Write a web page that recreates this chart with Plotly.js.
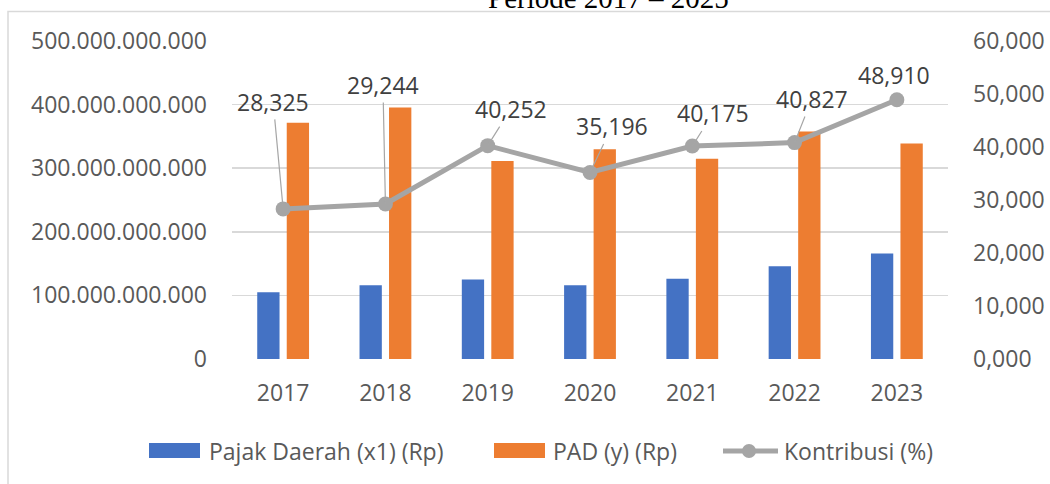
<!DOCTYPE html>
<html>
<head>
<meta charset="utf-8">
<script src="https://cdn.plot.ly/plotly-3.0.1.min.js"></script>
<style>html,body{margin:0;padding:0;background:#fff;}#chart{width:1050px;height:484px;}</style>
</head>
<body>
<div id="chart"></div>
<script>
// ---- data ----
const years = ['2017', '2018', '2019', '2020', '2021', '2022', '2023'];
const pajakDaerah = [105e9, 116e9, 125e9, 116e9, 126e9, 146e9, 166e9];
const pad = [371.6e9, 395.6e9, 311.3e9, 329.7e9, 315e9, 357.9e9, 339e9];
const kontribusi = [28.325, 29.244, 40.252, 35.196, 40.175, 40.827, 48.910];
const seriesNames = ['Pajak Daerah (x1) (Rp)', 'PAD (y) (Rp)', 'Kontribusi (%)'];
const leftTickVals = [0, 100e9, 200e9, 300e9, 400e9, 500e9];
const leftTickText = ['0', '100.000.000.000', '200.000.000.000', '300.000.000.000', '400.000.000.000', '500.000.000.000'];
const rightTickVals = [0, 10, 20, 30, 40, 50, 60];
const rightTickText = ['0,000', '10,000', '20,000', '30,000', '40,000', '50,000', '60,000'];
const chartTitle = 'Periode 2017 – 2025';

// ---- layout geometry (pixels) ----
const W = 1050, H = 484;
const L = 232, R = 948, T = 41, B = 359;
const px = x => (x - L) / (R - L);
const py = y => (B - y) / (B - T);

const colors = ['#4472C4', '#ED7D31', '#A5A5A5'];
const font = 'Open Sans, sans-serif';
const fs = 23;

const traces = [
  {type: 'bar', x: years, y: pajakDaerah, name: seriesNames[0], marker: {color: colors[0]}, yaxis: 'y', hoverinfo: 'skip'},
  {type: 'bar', x: years, y: pad, name: seriesNames[1], marker: {color: colors[1]}, yaxis: 'y', hoverinfo: 'skip'},
  {type: 'scatter', mode: 'lines+markers', x: years, y: kontribusi, name: seriesNames[2], yaxis: 'y2',
   line: {color: colors[2], width: 5}, marker: {color: colors[2], size: 15}, hoverinfo: 'skip'}
];

// label offsets (pixels) from each point
const labelOffsets = [[-10, -107], [-2.5, -119], [23, -36.5], [22, -46], [20.6, -32.6], [17.3, -43.7], [-2.6, -24.8]];
const leaderShown = [true, true, true, true, true, true, false];

const annotations = [];
kontribusi.forEach((v, i) => {
  const t = v.toFixed(3).replace('.', ',');
  const a = {x: i, y: v, xref: 'x', yref: 'y2', text: t,
    font: {family: font, size: fs, color: '#404040'}};
  if (leaderShown[i]) {
    Object.assign(a, {showarrow: true, arrowhead: 0, arrowwidth: 1.2, arrowcolor: '#A6A6A6',
      ax: labelOffsets[i][0], ay: labelOffsets[i][1], axref: 'pixel', ayref: 'pixel', standoff: 0, startstandoff: 0});
  } else {
    Object.assign(a, {showarrow: false, xshift: labelOffsets[i][0], yshift: -labelOffsets[i][1]});
  }
  annotations.push(a);
});

// title (partially cut at the top like the reference)
annotations.push({xref: 'paper', yref: 'paper', x: px(608), y: py(16), xanchor: 'center', yanchor: 'bottom',
  showarrow: false, text: chartTitle, font: {family: 'Liberation Serif, Times New Roman, serif', size: 29, color: '#000'}});

// custom legend
const shapes = [];
shapes.push({type: 'rect', xref: 'paper', yref: 'paper', x0: px(8), x1: px(1060), y0: py(520), y1: py(11.5),
  line: {color: '#D9D9D9', width: 1.5}, fillcolor: 'rgba(0,0,0,0)', layer: 'below'});
const legY = 451;
shapes.push({type: 'rect', xref: 'paper', yref: 'paper', x0: px(149), x1: px(200), y0: py(458), y1: py(443),
  fillcolor: colors[0], line: {width: 0}});
shapes.push({type: 'rect', xref: 'paper', yref: 'paper', x0: px(494), x1: px(545), y0: py(458), y1: py(443),
  fillcolor: colors[1], line: {width: 0}});
shapes.push({type: 'line', xref: 'paper', yref: 'paper', x0: px(723), x1: px(778), y0: py(legY), y1: py(legY),
  line: {color: colors[2], width: 5}});
shapes.push({type: 'circle', xref: 'paper', yref: 'paper', x0: px(742), x1: px(756), y0: py(legY + 7), y1: py(legY - 7),
  fillcolor: colors[2], line: {width: 0}});
const legTextX = [207, 551, 782];
seriesNames.forEach((n, i) => {
  annotations.push({xref: 'paper', yref: 'paper', x: px(legTextX[i]), y: py(legY), xanchor: 'left', yanchor: 'middle',
    showarrow: false, text: n, font: {family: font, size: fs, color: '#595959'}});
});

const layout = {
  width: W, height: H,
  margin: {l: L, r: W - R, t: T, b: H - B, pad: 0},
  paper_bgcolor: '#fff', plot_bgcolor: '#fff',
  showlegend: false,
  barmode: 'group', bargap: 0.423, bargroupgap: 0.244,
  font: {family: font, size: fs, color: '#595959'},
  xaxis: {type: 'category', range: [-0.5, years.length - 0.5], showgrid: false, zeroline: false, showline: false, ticks: '',
    ticklabelstandoff: 18, tickfont: {family: font, size: fs, color: '#595959'}, fixedrange: true},
  yaxis: {range: [0, 500e9], tickvals: leftTickVals, ticktext: leftTickText, showgrid: true,
    gridcolor: '#D9D9D9', gridwidth: 1.5, zeroline: false, showline: false, ticks: '',
    ticklabelstandoff: 24, tickfont: {family: font, size: fs, color: '#595959'}, automargin: false},
  yaxis2: {range: [0, 60], overlaying: 'y', side: 'right', tickvals: rightTickVals, ticktext: rightTickText,
    showgrid: false, zeroline: false, showline: false, ticks: '', ticklabelstandoff: 24,
    tickfont: {family: font, size: fs, color: '#595959'}, automargin: false},
  annotations: annotations,
  shapes: shapes
};

Plotly.newPlot('chart', traces, layout, {staticPlot: true, displayModeBar: false});
</script>
</body>
</html>
